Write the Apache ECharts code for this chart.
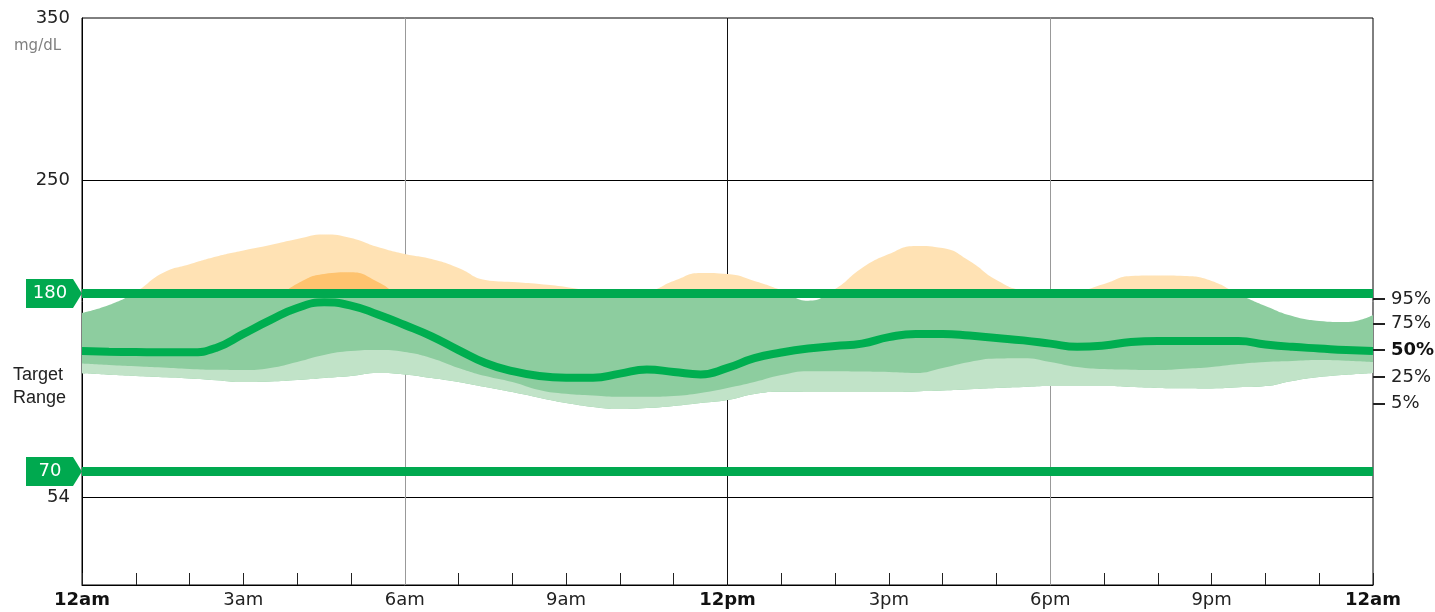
<!DOCTYPE html>
<html>
<head>
<meta charset="utf-8">
<script src="https://cdn.jsdelivr.net/npm/echarts@6/dist/echarts.min.js"></script>
<style>
html, body { margin: 0; padding: 0; background: #fff; }
#container { width: 1435px; height: 612px; }
</style>
</head>
<body>
<div id="container"></div>
<script>
var dom = document.getElementById('container');
var myChart = echarts.init(dom);

// hour of day, every half hour
var hours = ['0', '0.5', '1', '1.5', '2', '2.5', '3', '3.5', '4', '4.5', '5', '5.5', '6', '6.5', '7', '7.5', '8', '8.5', '9', '9.5',
	'10', '10.5', '11', '11.5', '12', '12.5', '13', '13.5', '14', '14.5', '15', '15.5', '16', '16.5', '17', '17.5', '18', '18.5', '19', '19.5',
	'20', '20.5', '21', '21.5', '22', '22.5', '23', '23.5', '24'];

// percentiles, mg/dL
var p5 = [130.7, 129.8, 129, 128.2, 127.5, 126.4, 125.3, 125.6, 126.5, 127.8,
	129, 130.9, 130, 127.8, 125.3, 122.2, 119.1, 115.6, 112.3, 109.9,
	108.6, 109.2, 110.5, 112.3, 114.2, 117.9, 119.3, 119.2, 119.1, 119.1,
	119.1, 119.5, 120, 120.8, 121.6, 122.2, 122.8, 122.8, 122.8, 122.2,
	121.6, 121.4, 121.3, 122, 122.8, 126, 128.4, 129.8, 130.9];
var p25 = [136.7, 135.8, 135, 134.2, 133.3, 132.8, 132.7, 134, 137.7, 142,
	144.4, 145, 143.8, 140, 134, 129, 125.3, 120.4, 118, 117,
	116.2, 116.2, 116.7, 118.5, 121.6, 125.3, 129.6, 132, 132, 131.8,
	131.5, 130.9, 134, 137.7, 139.8, 140, 137.7, 134.6, 133.3, 132.9,
	132.7, 133.5, 134.6, 136.4, 137.7, 138.3, 138.9, 138.5, 137.7];
var p50 = [144.4, 144, 143.8, 143.6, 143.6, 146.5, 155, 163.5, 171, 174.5,
	172.5, 167, 160.5, 153.5, 145, 137, 132, 129, 128, 128,
	130.5, 133, 131.5, 130, 134, 140, 143.5, 146, 147.5, 149,
	153, 155, 155, 154, 152.5, 151, 149, 147, 147.8, 150,
	150.6, 150.6, 150.6, 150.6, 148.5, 147, 146, 145, 144.4];
var p75 = [158, 160, 162, 165, 167, 170, 172, 175, 186, 192,
	193, 187, 177, 174, 170, 165, 162, 159, 157, 156,
	156, 158, 160, 161, 162, 163, 164, 164, 166, 170,
	174, 176, 175, 172, 168, 166, 165, 165, 167, 169,
	170, 170, 169, 166, 162, 158, 156, 155, 156];
var p95 = [167.9, 172.8, 180.9, 192.6, 198, 202.8, 206.5, 209.9, 213.6, 216.4,
	214.2, 208.6, 204.3, 201.2, 195.7, 188.3, 187, 185.8, 184, 181.5,
	180.9, 181.5, 187.7, 192.6, 192, 187.7, 182, 175.5, 182.7, 195.7,
	204.3, 209.3, 208, 200, 188.3, 182, 180.9, 181.5, 185.8, 190.7,
	191, 190.7, 187.7, 179.6, 172.2, 166, 163, 162.3, 166.7];

var targetRange = [70, 180];
var refLines = [54, 250];
var leftTicks = [54, 250, 350];
var hourLabels = ['12am', '3am', '6am', '9am', '12pm', '3pm', '6pm', '9pm', '12am'];
var pctTicks = [176.5, 161.5, 145, 128.5, 112];
var pctLabels = ['95%', '75%', '50%', '25%', '5%'];

var font = 'DejaVu Sans';
var textColor = '#222';
var greenLine = '#00a94f';
var midGreen = '#8dcd9f';

function band(top, bottom) {
	return top.map(function (v, i) { return +(v - bottom[i]).toFixed(2); });
}

// invisible base + filled band, stacked
function bandSeries(stack, bottom, top, area, extra) {
	var base = {
		name: stack + '-base',
		type: 'line',
		stack: stack,
		data: bottom,
		smooth: 0.5,
		symbol: 'none',
		lineStyle: { width: 0, opacity: 0 }
	};
	var fill = {
		name: stack,
		type: 'line',
		stack: stack,
		data: band(top, bottom),
		smooth: 0.5,
		symbol: 'none',
		lineStyle: { width: 0, opacity: 0 },
		areaStyle: area
	};
	if (extra) echarts.util.extend(base, extra);
	return [base, fill];
}

var gridLines = refLines.map(function (v) {
	return { yAxis: v, lineStyle: { color: '#000', width: 1, type: 'solid' } };
}).concat([
	{ xAxis: '6', lineStyle: { color: '#999', width: 1, type: 'solid' } },
	{ xAxis: '12', lineStyle: { color: '#111', width: 1, type: 'solid' } },
	{ xAxis: '18', lineStyle: { color: '#999', width: 1, type: 'solid' } }
]);

var series = [].concat(
	bandSeries('outer', p5, p95, { opacity: 1 }, {
		markLine: {
			z: 1,
			silent: true,
			symbol: ['none', 'none'],
			label: { show: false },
			data: gridLines
		}
	}),
	bandSeries('inner', p25, p75, { opacity: 1 }),
	bandSeries('low', p5, p25, { color: '#c1e3c8', opacity: 1 }),
	[{
		name: '50%',
		type: 'line',
		data: p50,
		smooth: 0.5,
		symbol: 'none',
		clip: false,
		z: 3,
		lineStyle: { color: '#00ae50', width: 8 },
		markLine: {
			z: 5,
			silent: true,
			symbol: ['none', 'none'],
			label: { show: false },
			lineStyle: { color: greenLine, width: 9, type: 'solid' },
			data: targetRange.map(function (v) { return { yAxis: v }; })
		},
		markPoint: {
			z: 6,
			silent: true,
			symbol: 'path://M0,0L47,0L56,14.5L47,29L0,29Z',
			symbolSize: [56, 29],
			symbolOffset: [-28, 0],
			itemStyle: { color: greenLine },
			label: {
				show: true,
				position: 'inside',
				offset: [-4, 0],
				color: '#fff',
				fontSize: 18,
				fontFamily: font,
				formatter: '{c}'
			},
			data: targetRange.map(function (v) { return { coord: ['0', v], value: v }; })
		}
	}]
);

var option = {
	animation: false,
	title: [{
		text: 'mg/dL',
		left: 14,
		top: 39,
		padding: 0,
		textStyle: { fontSize: 15, fontWeight: 'normal', color: '#808080', fontFamily: font }
	}, {
		text: 'Target\nRange',
		left: 13,
		top: 364,
		padding: 0,
		textStyle: { fontSize: 18, lineHeight: 23, fontWeight: 'normal', color: textColor, fontFamily: 'Liberation Sans' }
	}],
	grid: {
		left: 82,
		right: 62,
		top: 18,
		bottom: 27,
		show: true,
		borderColor: '#000',
		borderWidth: 1,
		outerBoundsMode: 'none'
	},
	visualMap: [{
		type: 'piecewise',
		show: false,
		seriesIndex: 1,
		dimension: 1,
		pieces: [
			{ min: 0, max: 180, color: midGreen },
			{ min: 180, max: 400, color: '#ffe2b4' }
		]
	}, {
		type: 'piecewise',
		show: false,
		seriesIndex: 3,
		dimension: 1,
		pieces: [
			{ min: 0, max: 180, color: midGreen },
			{ min: 180, max: 400, color: '#fec36f' }
		]
	}],
	xAxis: {
		type: 'category',
		data: hours,
		boundaryGap: false,
		axisLine: { lineStyle: { color: '#000', width: 1 } },
		axisTick: { inside: true, interval: 1, length: 12, lineStyle: { color: '#222', width: 1 } },
		splitLine: { show: false },
		axisLabel: {
			margin: 6,
			fontSize: 18,
			fontFamily: font,
			color: textColor,
			interval: function (index) { return index % 6 === 0; },
			formatter: function (value, index) {
				var t = hourLabels[index / 6];
				return index % 24 === 0 ? '{b|' + t + '}' : t;
			},
			rich: {
				b: { fontSize: 18, fontFamily: font, fontWeight: 'bold', color: '#111' }
			}
		}
	},
	yAxis: [{
		type: 'value',
		min: 0,
		max: 350,
		position: 'left',
		axisLine: { show: true, lineStyle: { color: '#000' } },
		axisTick: { show: false },
		splitLine: { show: false },
		axisLabel: {
			customValues: leftTicks,
			margin: 12,
			fontSize: 18,
			fontFamily: font,
			color: textColor
		}
	}, {
		type: 'value',
		min: 0,
		max: 350,
		position: 'right',
		axisLine: { show: false },
		splitLine: { show: false },
		axisTick: {
			show: true,
			customValues: pctTicks,
			length: 12,
			lineStyle: { color: '#222', width: 2 }
		},
		axisLabel: {
			customValues: pctTicks,
			margin: 18,
			fontSize: 18,
			fontFamily: font,
			color: textColor,
			formatter: function (v) {
				var t = pctLabels[pctTicks.indexOf(v)];
				return t === '50%' ? '{b|' + t + '}' : t;
			},
			rich: {
				b: { fontSize: 18, fontFamily: font, fontWeight: 'bold', color: '#111' }
			}
		}
	}],
	series: series
};

if (option && typeof option === 'object') {
	myChart.setOption(option, true);
}
</script>
</body>
</html>
